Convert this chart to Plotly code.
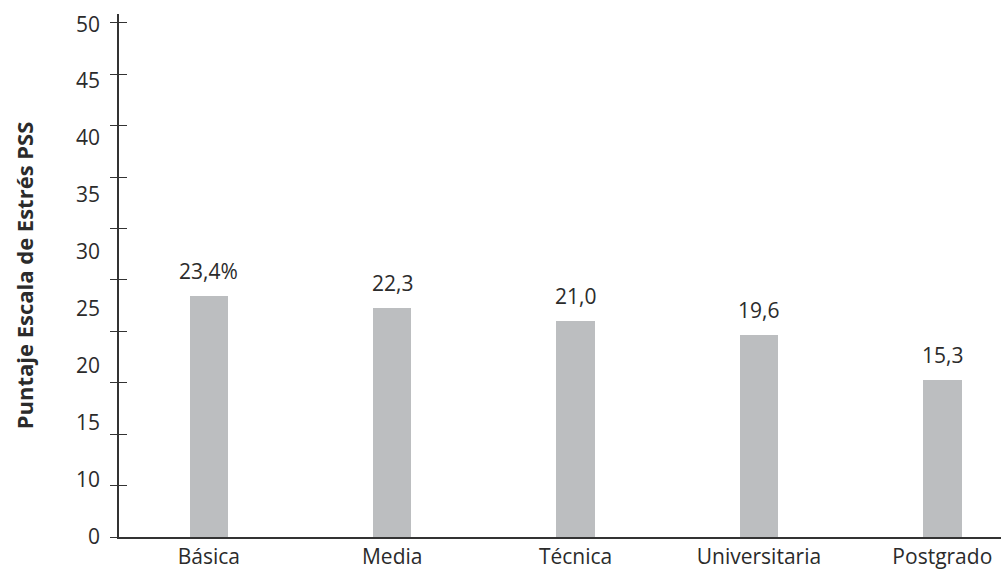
import plotly.graph_objects as go

categories = ["Básica", "Media", "Técnica", "Universitaria", "Postgrado"]
values = [23.4, 22.3, 21.0, 19.6, 15.3]
value_labels = ["23,4%", "22,3", "21,0", "19,6", "15,3"]

# tick labels as printed in the reference (placed where they appear)
y_tick_text = ["0", "10", "15", "20", "25", "30", "35", "40", "45", "50"]
y_tick_label_pos = [0, 5.55, 11.1, 16.65, 22.2, 27.75, 33.3, 38.85, 44.4, 49.8]
# tick marks on the axis
y_tick_marks = [0, 5, 10, 15, 20, 25, 30, 35, 40, 45, 50]

y_title = "Puntaje Escala de Estrés PSS"

text_color = "#2b2b2b"
font_family = "Open Sans, Lato, sans-serif"
axis_color = "#333333"
y_range = [0, 50.85]

fig = go.Figure()
fig.add_trace(go.Bar(
    x=categories, y=values, marker_color="#bcbec0", width=0.21,
    marker_line_width=0, showlegend=False, hoverinfo="skip",
))
for ax in ["y2", "y3"]:
    fig.add_trace(go.Scatter(x=categories, y=values, yaxis=ax, mode="markers",
                             marker=dict(opacity=0), showlegend=False, hoverinfo="skip"))

for c, v, t in zip(categories, values, value_labels):
    fig.add_annotation(x=c, y=v, text=t, showarrow=False, yanchor="bottom",
                       yshift=9, font=dict(size=21, color=text_color, family=font_family))

fig.update_layout(
    width=1002, height=574,
    margin=dict(l=119, r=1, t=14, b=37),
    plot_bgcolor="white", paper_bgcolor="white",
    font=dict(family=font_family, size=21, color=text_color),
    bargap=0,
    xaxis=dict(
        range=[-0.49, 4.32], showline=True, linecolor=axis_color, linewidth=1.5,
        ticks="", showgrid=False, zeroline=False,
        tickfont=dict(size=21, color=text_color),
    ),
    yaxis=dict(
        range=y_range, tickvals=y_tick_label_pos, ticktext=y_tick_text,
        showline=True, linecolor=axis_color, linewidth=1.5,
        ticks="outside", ticklen=13, tickcolor="rgba(0,0,0,0)",
        showgrid=False, zeroline=False,
        tickfont=dict(size=21, color=text_color),
        title=dict(text=y_title, standoff=36,
                   font=dict(size=22, color=text_color, family=font_family, weight="bold")),
    ),
    yaxis2=dict(
        range=y_range, overlaying="y", side="left", anchor="x",
        tickvals=y_tick_marks, showticklabels=False,
        ticks="outside", ticklen=8, tickwidth=1.3, tickcolor=axis_color,
        showline=False, showgrid=False, zeroline=False,
    ),
    yaxis3=dict(
        range=y_range, overlaying="y", side="left", anchor="x",
        tickvals=y_tick_marks, showticklabels=False,
        ticks="inside", ticklen=8, tickwidth=1.3, tickcolor=axis_color,
        showline=False, showgrid=False, zeroline=False,
    ),
)

fig.write_html("out.html")
